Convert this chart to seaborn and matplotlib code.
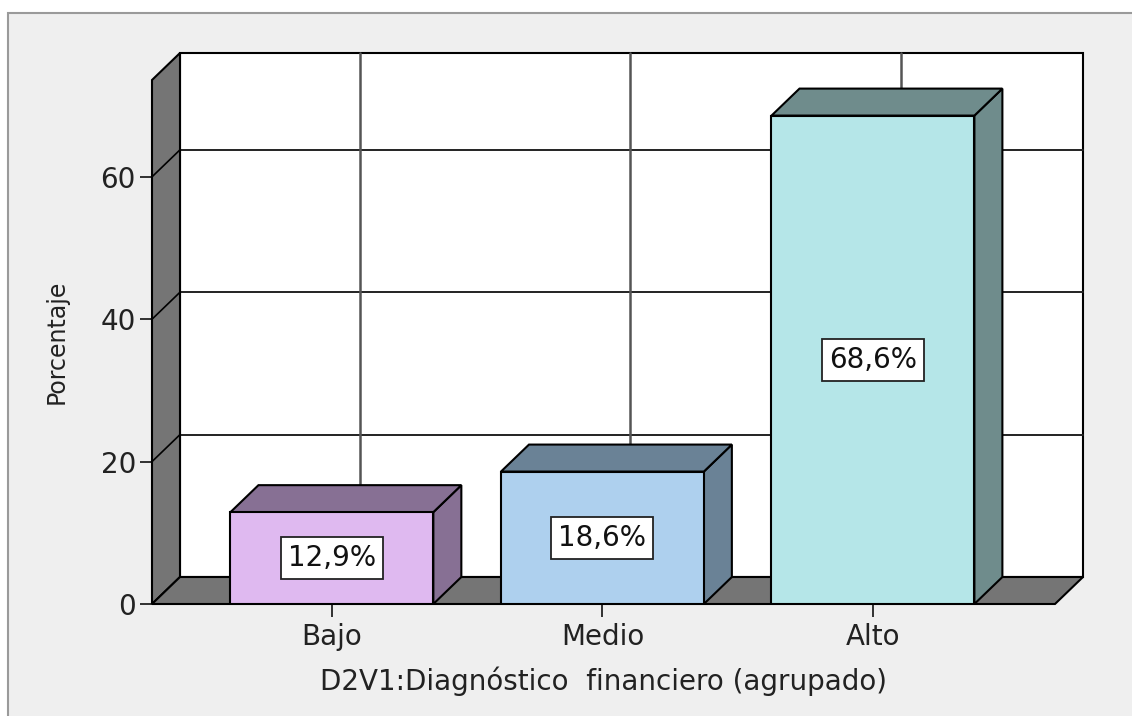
import pandas as pd
import matplotlib.pyplot as plt
import seaborn as sns
from matplotlib.patches import Polygon, Rectangle

# datos del grafico
categorias = ["Bajo", "Medio", "Alto"]
porcentajes = [12.9, 18.6, 68.6]
etiquetas = ["12,9%", "18,6%", "68,6%"]
y_ticks = [0, 20, 40, 60]

color_frente = ["#dfb9f0", "#aed0ee", "#b5e6e8"]
color_lado = ["#877094", "#6a8296", "#6f8c8c"]
gris_pared = "#757575"
fondo = "#efefef"

df = pd.DataFrame({"Categoria": categorias, "Porcentaje": porcentajes})

sns.set_theme(style="white")
plt.rcParams["font.family"] = ["DejaVu Sans"]

W, H = 1132, 716
fig = plt.figure(figsize=(W / 100, H / 100), dpi=100, facecolor="white")

# marco exterior gris (solo borde superior e izquierdo visibles)
fig.patches.append(Rectangle((8 / W, -0.1), 1.2, 1.1 - 13 / H, transform=fig.transFigure,
                             facecolor=fondo, edgecolor="#9a9a9a", lw=1.5, zorder=-10))

# area frontal del grafico (en pixeles)
x0_px, x1_px, y0_px, y1_px = 152, 1055, 604, 80
ax = fig.add_axes([x0_px / W, (H - y0_px) / H, (x1_px - x0_px) / W, (y0_px - y1_px) / H])
ax.set_facecolor("none")

xmin, xmax = -0.665, 2.673
ymax = 73.6

# profundidad 3D en unidades de datos
dx = 28 * (xmax - xmin) / (x1_px - x0_px)
dy = 27 * ymax / (y0_px - y1_px)

# plano de fondo
ax.add_patch(Rectangle((xmin + dx, dy), xmax - xmin, ymax, facecolor="white",
                       edgecolor="black", lw=1.5, clip_on=False, zorder=0))

# lineas de rejilla
for v in y_ticks[1:]:
    ax.plot([xmin + dx, xmax + dx], [v + dy, v + dy], color="#222222", lw=1.4,
            clip_on=False, zorder=1)
for i in range(len(categorias)):
    ax.plot([i + dx, i + dx], [dy, ymax + dy], color="#555555", lw=1.8,
            clip_on=False, zorder=1)

# pared izquierda y suelo
ax.add_patch(Polygon([(xmin, 0), (xmin, ymax), (xmin + dx, ymax + dy), (xmin + dx, dy)],
                     facecolor=gris_pared, edgecolor="black", lw=1.5, clip_on=False, zorder=2))
for v in y_ticks[1:]:
    ax.plot([xmin, xmin + dx], [v, v + dy], color="black", lw=1.2, clip_on=False, zorder=2)
ax.add_patch(Polygon([(xmin, 0), (xmax, 0), (xmax + dx, dy), (xmin + dx, dy)],
                     facecolor=gris_pared, edgecolor="black", lw=1.5, clip_on=False, zorder=2))

# barras frontales con seaborn
sns.barplot(data=df, x="Categoria", y="Porcentaje", hue="Categoria", palette=color_frente,
            saturation=1, width=0.75, edgecolor="black", linewidth=1.5, legend=False,
            ax=ax, zorder=4)
ax.set_xlim(xmin, xmax)
ax.set_ylim(0, ymax)

barras = [p for p in ax.patches if p.get_zorder() == 4]
for i, bar in enumerate(barras):
    bx0 = bar.get_x()
    bx1 = bx0 + bar.get_width()
    h = bar.get_height()
    # lado y tapa
    ax.add_patch(Polygon([(bx1, 0), (bx1, h), (bx1 + dx, h + dy), (bx1 + dx, dy)],
                         facecolor=color_lado[i], edgecolor="black", lw=1.5, zorder=3))
    ax.add_patch(Polygon([(bx0, h), (bx1, h), (bx1 + dx, h + dy), (bx0 + dx, h + dy)],
                         facecolor=color_lado[i], edgecolor="black", lw=1.5, zorder=3))
    ax.text(bx0 + bar.get_width() / 2, h / 2, etiquetas[i], ha="center", va="center",
            fontsize=20, color="#111111", zorder=6,
            bbox=dict(boxstyle="square,pad=0.25", facecolor="white", edgecolor="#222222", lw=1.3))

for s in ax.spines.values():
    s.set_visible(False)

ax.set_yticks(y_ticks)
ax.tick_params(axis="y", left=True, length=8.6, width=1.3, color="#222222", pad=3,
               labelsize=20, labelcolor="#222222")
ax.tick_params(axis="x", bottom=True, length=9, width=1.3, color="#222222", pad=5,
               labelsize=20, labelcolor="#222222")
ax.set_ylabel("Porcentaje", fontsize=17, color="#222222", labelpad=23)
ax.set_xlabel("D2V1:Diagnóstico  financiero (agrupado)", fontsize=20, color="#222222",
              labelpad=11)

plt.savefig("out.png", dpi=100, facecolor="white")
